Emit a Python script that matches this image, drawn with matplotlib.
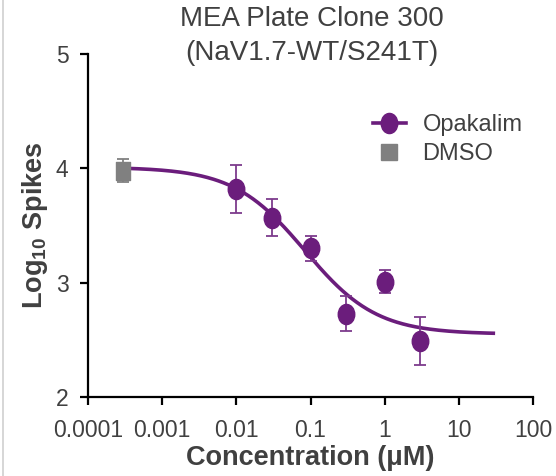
import numpy as np
import matplotlib.pyplot as plt
from matplotlib.path import Path
from matplotlib.lines import Line2D

plt.rcParams['font.family'] = ['Liberation Sans', 'DejaVu Sans']
plt.rcParams['mathtext.default'] = 'regular'

# data
conc = [0.01, 0.03, 0.1, 0.3, 1, 3]
spikes = [3.82, 3.57, 3.30, 2.73, 3.01, 2.49]
err = [0.21, 0.16, 0.11, 0.15, 0.10, 0.21]
dmso_conc = [0.0003]
dmso_spikes = [3.98]
dmso_err = [0.10]

# 4PL fit parameters (top, bottom, log IC50, hill)
top, bottom, log_ic50, hill = 4.01, 2.55, -1.075, 0.9
fit_range = (0.0003, 29)

purple = '#6b1d7c'
grey_txt = '#404040'

# ellipse marker, a bit taller than wide
circ = Path.unit_circle()
ell = Path(circ.vertices * [0.82, 1.0], circ.codes)
rect = Path([(-0.78, -1), (0.78, -1), (0.78, 1), (-0.78, 1), (-0.78, -1)],
            [Path.MOVETO, Path.LINETO, Path.LINETO, Path.LINETO, Path.CLOSEPOLY])

fig = plt.figure(figsize=(5.56, 4.76), dpi=100)
ax = fig.add_axes([0.158, 0.166, 0.801, 0.7205])

xs = np.logspace(np.log10(fit_range[0]), np.log10(fit_range[1]), 300)
ys = bottom + (top - bottom) / (1 + 10 ** (hill * (np.log10(xs) - log_ic50)))
ax.plot(xs, ys, color=purple, lw=2.6, zorder=2)

ax.errorbar(conc, spikes, yerr=err, fmt='none', ecolor='#7d3b8c', elinewidth=1.3,
            capsize=4, capthick=1.3, zorder=3)
ax.plot(conc, spikes, ls='none', marker=ell, ms=14.5, color=purple, mec=purple, zorder=4)

ax.errorbar(dmso_conc, dmso_spikes, yerr=dmso_err, fmt='none', ecolor='#808080',
            elinewidth=1.3, capsize=4, capthick=1.3, zorder=3)
ax.plot(dmso_conc, dmso_spikes, ls='none', marker=rect, ms=13, color='#808080', zorder=4)

ax.set_xscale('log')
ax.set_xlim(0.0001, 100)
ax.set_ylim(2, 5)
ax.set_xticks([0.0001, 0.001, 0.01, 0.1, 1, 10, 100])
ax.set_xticklabels(['0.0001', '0.001', '0.01', '0.1', '1', '10', '100'])
ax.minorticks_off()
ax.set_yticks([2, 3, 4, 5])

for s in ['top', 'right']:
    ax.spines[s].set_visible(False)
for s in ['left', 'bottom']:
    ax.spines[s].set_linewidth(1.6)
ax.tick_params(length=6, width=1.6, labelsize=16.5, labelcolor=grey_txt)
ax.tick_params(axis='x', pad=10)
ax.tick_params(axis='y', pad=8)

ax.set_xlabel('Concentration (μM)', fontsize=19.5, fontweight='bold', color=grey_txt, labelpad=2)
ax.set_ylabel('Log$_{10}$ Spikes', fontsize=19.5, fontweight='bold', color=grey_txt, labelpad=4)

fig.text(0.5605, 0.988, 'MEA Plate Clone 300\n(NaV1.7-WT/S241T)', ha='center', va='top',
         fontsize=20, color=grey_txt, linespacing=1.42)

handles = [Line2D([], [], color=purple, lw=2.6, marker=ell, ms=14.5),
           Line2D([], [], ls='none', color='#808080', marker='s', ms=12)]
ax.legend(handles, ['Opakalim', 'DMSO'], loc='center left', bbox_to_anchor=(0.64, 0.751),
          frameon=False, fontsize=17, labelcolor=grey_txt, handlelength=1.4,
          handletextpad=0.7, labelspacing=0.3, borderpad=0, borderaxespad=0)

# thin border line at the left edge of the image
fig.add_artist(Line2D([0.005, 0.005], [0, 1], color='#d0d0d0', lw=1.2, transform=fig.transFigure))

fig.savefig('out.png', dpi=100)
